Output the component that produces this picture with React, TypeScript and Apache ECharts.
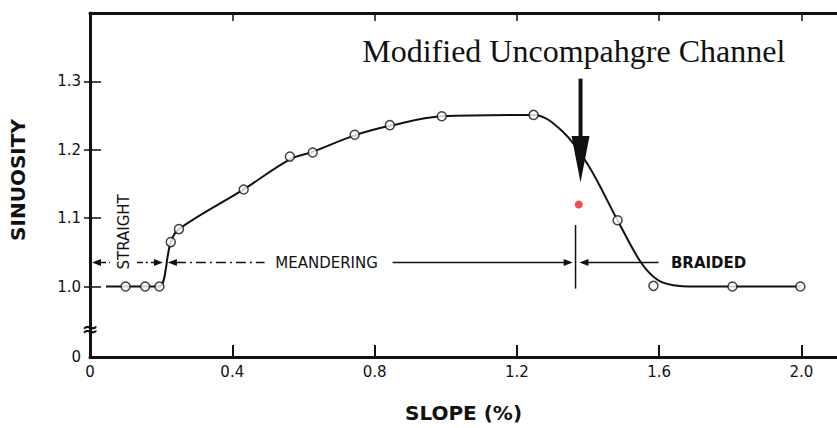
import React, { useEffect, useRef } from "react";
import * as echarts from "echarts";

// Observed points (open circles): slope (%) and sinuosity
const observedSlope = [0.1, 0.155, 0.195, 0.227, 0.25, 0.432, 0.562, 0.626, 0.744, 0.843, 0.989, 1.247, 1.483, 1.584, 1.806, 1.997];
const observedSinuosity = [1.0, 1.0, 1.0, 1.065, 1.084, 1.142, 1.19, 1.196, 1.222, 1.236, 1.249, 1.251, 1.097, 1.001, 1.0, 1.0];

// Hand-fitted curve
const curveSlope = [0.045, 0.1, 0.155, 0.195, 0.227, 0.25, 0.432, 0.562, 0.626, 0.744, 0.843, 0.989, 1.247, 1.33, 1.4, 1.483, 1.548, 1.595, 1.64, 1.7, 1.806, 1.997];
const curveSinuosity = [1.0, 1.0, 1.0, 1.0, 1.065, 1.084, 1.142, 1.186, 1.197, 1.221, 1.235, 1.249, 1.251, 1.226, 1.178, 1.097, 1.036, 1.01, 1.002, 1.0, 1.0, 1.0];

// Modified Uncompahgre Channel (red dot)
const modifiedChannel = [1.374, 1.12];

// Axis ticks
const xTicks = [0, 0.4, 0.8, 1.2, 1.6, 2.0];
const yTicks = [1.0, 1.1, 1.2, 1.3];
const Y_MIN = 0.897;
const Y_MAX = 1.4;
const X_MAX = 2.1;

// Regime boundaries / annotation anchors (data units)
const regimeArrowY = 1.035;
const straightEnd = 0.205;
const meanderStart = 0.219;
const meanderEnd = 1.357;
const dividerX = 1.365;
const braidedStart = 1.376;

export default function App() {
  const ref = useRef<HTMLDivElement>(null);

  useEffect(() => {
    const el = ref.current!;
    const chart = echarts.init(el, null, { renderer: "svg" });
    const labelFont = { fontFamily: "DejaVu Sans", fontSize: 15, color: "#111" };

    chart.setOption({
      animation: false,
      backgroundColor: "#fff",
      grid: { left: 89, right: 0, top: 13, bottom: 67, containLabel: false },
      xAxis: [
        {
          type: "value",
          position: "bottom",
          min: 0,
          max: X_MAX,
          name: "SLOPE (%)",
          nameLocation: "middle",
          nameGap: 46,
          nameTextStyle: { fontFamily: "DejaVu Sans", fontWeight: "bold", fontSize: 20, color: "#111" },
          axisLine: { show: true, lineStyle: { color: "#111", width: 3 } },
          axisTick: { show: true, inside: true, length: 12, customValues: xTicks.slice(1), lineStyle: { color: "#111", width: 2 } },
          axisLabel: { ...labelFont, margin: 7, customValues: xTicks, formatter: (v: number) => (v === 0 ? "0" : v.toFixed(1)) },
          splitLine: { show: false },
        },
        {
          type: "value",
          position: "top",
          min: 0,
          max: X_MAX,
          axisLine: { show: true, lineStyle: { color: "#111", width: 3 } },
          axisTick: { show: true, inside: true, length: 8, customValues: xTicks.slice(1), lineStyle: { color: "#111", width: 1.5 } },
          axisLabel: { show: false },
          splitLine: { show: false },
        },
      ],
      yAxis: [
        {
          type: "value",
          position: "left",
          min: Y_MIN,
          max: Y_MAX,
          name: "SINUOSITY",
          nameLocation: "middle",
          nameGap: 62,
          nameTextStyle: { fontFamily: "DejaVu Sans", fontWeight: "bold", fontSize: 20, color: "#111", padding: [0, 0, 0, 10] },
          axisLine: { show: true, lineStyle: { color: "#111", width: 3 } },
          axisTick: { show: true, inside: true, length: 11, customValues: yTicks, lineStyle: { color: "#111", width: 1.5 } },
          axisLabel: {
            ...labelFont,
            margin: 9,
            customValues: [Y_MIN, ...yTicks],
            formatter: (v: number) => (Math.abs(v - Y_MIN) < 1e-6 ? "0" : v.toFixed(1)),
          },
          splitLine: { show: false },
        },
        {
          type: "value",
          position: "right",
          min: Y_MIN,
          max: Y_MAX,
          axisLine: { show: false },
          axisTick: { show: true, inside: true, length: 6, customValues: yTicks, lineStyle: { color: "#111", width: 1.5 } },
          axisLabel: { show: false },
          splitLine: { show: false },
        },
      ],
      series: [
        {
          type: "line",
          data: curveSlope.map((x, i) => [x, curveSinuosity[i]]),
          smooth: 0.35,
          showSymbol: false,
          lineStyle: { color: "#111", width: 2 },
          z: 2,
        },
        {
          type: "scatter",
          data: observedSlope.map((x, i) => [x, observedSinuosity[i]]),
          symbol: "circle",
          symbolSize: 9,
          itemStyle: { color: "#fff", borderColor: "#111", borderWidth: 1.5 },
          z: 3,
        },
        {
          type: "scatter",
          data: [modifiedChannel],
          symbol: "circle",
          symbolSize: 8,
          itemStyle: { color: "#e8262d" },
          z: 4,
        },
      ],
    });

    const px = (x: number, y: number) => chart.convertToPixel({ xAxisIndex: 0, yAxisIndex: 0 }, [x, y]) as number[];
    const black = "#111";
    const head = (tipX: number, tipY: number, dir: number, len = 9, half = 3.5) => ({
      type: "polygon",
      shape: { points: [[tipX, tipY], [tipX - dir * len, tipY - half], [tipX - dir * len, tipY + half]] },
      style: { fill: black },
    });
    const seg = (x1: number, x2: number, y: number, dash?: number[]) => ({
      type: "line",
      shape: { x1, y1: y, x2, y2: y },
      style: { stroke: black, lineWidth: 1.5, lineDash: dash },
    });

    const [axisX, ay] = px(0, regimeArrowY);
    const [sEndX] = px(straightEnd, regimeArrowY);
    const [mStartX] = px(meanderStart, regimeArrowY);
    const [mEndX] = px(meanderEnd, regimeArrowY);
    const [divX, divTop] = px(dividerX, 1.09);
    const [, divBot] = px(dividerX, 0.997);
    const [bStartX] = px(braidedStart, regimeArrowY);
    const [straightTextX, straightTextY] = px(0.0955, 1.08);
    const [meanderTextX] = px(0.665, regimeArrowY);
    const [braidTextX] = px(1.739, regimeArrowY);
    const [arrowX, arrowTop] = px(modifiedChannel[0] + 0.005, 1.304);
    const [, arrowBase] = px(modifiedChannel[0], 1.22);
    const [, arrowTip] = px(modifiedChannel[0], 1.152);
    const [titleX, titleY] = px(1.36, 1.345);
    const [, breakY] = px(0, 0.938);

    chart.setOption({
      graphic: [
        {
          type: "text",
          x: titleX,
          y: titleY,
          style: { text: "Modified Uncompahgre Channel", fontFamily: "Liberation Serif", fontSize: 32, fill: black, align: "center", verticalAlign: "middle" },
        },
        { type: "line", shape: { x1: arrowX, y1: arrowTop, x2: arrowX, y2: arrowBase + 2 }, style: { stroke: black, lineWidth: 4 } },
        { type: "polygon", shape: { points: [[arrowX - 9, arrowBase], [arrowX + 9, arrowBase], [arrowX, arrowTip]] }, style: { fill: black } },
        // straight
        head(axisX + 2, ay, -1),
        seg(axisX + 10, axisX + 20, ay, [6, 3, 2, 3]),
        {
          type: "text",
          x: straightTextX,
          y: straightTextY,
          rotation: Math.PI / 2,
          style: { text: "STRAIGHT", fontFamily: "DejaVu Sans", fontSize: 15, fill: black, align: "center", verticalAlign: "middle" },
        },
        seg(sEndX - 26, sEndX - 8, ay, [6, 3, 2, 3]),
        head(sEndX, ay, 1),
        // meandering
        head(mStartX, ay, -1),
        seg(mStartX + 8, meanderTextX - 62, ay, [10, 4, 2, 4]),
        {
          type: "text",
          x: meanderTextX,
          y: ay,
          style: { text: "MEANDERING", fontFamily: "DejaVu Sans", fontSize: 15, fill: black, align: "center", verticalAlign: "middle" },
        },
        seg(meanderTextX + 66, mEndX - 8, ay),
        head(mEndX, ay, 1),
        { type: "line", shape: { x1: divX, y1: divTop, x2: divX, y2: divBot }, style: { stroke: black, lineWidth: 1.5 } },
        // braided
        head(bStartX, ay, -1),
        seg(bStartX + 8, braidTextX - 50, ay),
        {
          type: "text",
          x: braidTextX,
          y: ay,
          style: { text: "BRAIDED", fontFamily: "DejaVu Sans", fontWeight: "bold", fontSize: 15, fill: black, align: "center", verticalAlign: "middle" },
        },
        // axis break mark
        {
          type: "text",
          x: axisX,
          y: breakY,
          style: { text: "≈", fontFamily: "DejaVu Sans", fontWeight: "bold", fontSize: 20, fill: black, align: "center", verticalAlign: "middle", backgroundColor: "#fff" },
        },
      ],
    });

    return () => chart.dispose();
  }, []);

  return <div ref={ref} style={{ width: 837, height: 428, position: "absolute", left: 0, top: 0 }} />;
}
